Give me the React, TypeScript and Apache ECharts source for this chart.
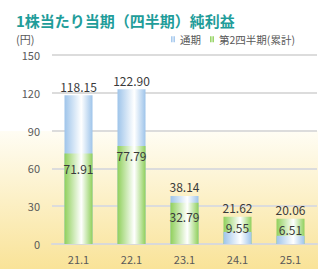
import React, { useEffect, useRef } from "react";
import * as echarts from "echarts";

const categories = ["21.1", "22.1", "23.1", "24.1", "25.1"];
const annualValues = [118.15, 122.9, 38.14, 21.62, 20.06];
const q2Values = [71.91, 77.79, 32.79, 9.55, 6.51];
const yTicks = { min: 0, max: 150, interval: 30 };

const seriesNames = ["通期", "第2四半期(累計)"];

// style-only helpers
const swapColor = [false, false, false, true, true];
const frontLabelOffsetY = [4, -2, 3, -15, -17];

const FONT = "'Noto Sans CJK JP', 'Noto Sans', sans-serif";

const blueGrad = {
  type: "linear", x: 0, y: 0, x2: 1, y2: 0,
  colorStops: [
    { offset: 0, color: "#9ec4ea" },
    { offset: 0.6, color: "#ffffff" },
    { offset: 1, color: "#9ec4ea" },
  ],
};
const greenGrad = {
  type: "linear", x: 0, y: 0, x2: 1, y2: 0,
  colorStops: [
    { offset: 0, color: "#90d05c" },
    { offset: 0.6, color: "#ffffff" },
    { offset: 1, color: "#90d05c" },
  ],
};

export default function App() {
  const ref = useRef<HTMLDivElement>(null);
  useEffect(() => {
    if (!ref.current) return;
    const chart = echarts.init(ref.current, undefined, { renderer: "svg" });
    chart.setOption({
      animation: false,
      textStyle: { fontFamily: FONT },
      graphic: [
        {
          type: "rect",
          z: -100,
          silent: true,
          shape: { x: 0, y: 131, width: 318, height: 138 },
          style: {
            fill: {
              type: "linear", x: 0, y: 0, x2: 0, y2: 1,
              colorStops: [
                { offset: 0, color: "#fffdf4" },
                { offset: 1, color: "#f9e398" },
              ],
            },
          },
        },
        {
          type: "text",
          left: 16,
          top: 13,
          style: {
            text: "1株当たり当期（四半期）純利益",
            font: `bold 15px ${FONT}`,
            fill: "#1f9d9a",
          },
        },
        {
          type: "text",
          left: 16,
          top: 33,
          style: {
            text: "(円)",
            font: `11px ${FONT}`,
            fill: "#595959",
          },
        },
      ],
      legend: {
        left: 171,
        top: 34,
        itemWidth: 4,
        itemHeight: 6,
        itemGap: 9,
        padding: 0,
        icon: "path://M0,0H1.6V6H0Z M2.4,0H4V6H2.4Z",
        textStyle: { fontSize: 10.5, color: "#595959", fontFamily: FONT },
        data: [
          { name: seriesNames[0], itemStyle: { color: "#a9cbee" } },
          { name: seriesNames[1], itemStyle: { color: "#9bd66a" } },
        ],
      },
      grid: { left: 52, right: 1, top: 55, bottom: 25, containLabel: false },
      xAxis: {
        type: "category",
        data: categories,
        axisLine: { lineStyle: { color: "#d9d9d9", width: 2 } },
        axisTick: { show: false },
        axisLabel: { fontSize: 11, color: "#595959", margin: 9, fontFamily: FONT },
      },
      yAxis: {
        type: "value",
        min: yTicks.min,
        max: yTicks.max,
        interval: yTicks.interval,
        axisLine: { show: false },
        axisTick: { show: false },
        splitLine: { lineStyle: { color: "#dcdcdc", width: 2 } },
        axisLabel: { fontSize: 11, color: "#595959", margin: 12, fontFamily: FONT },
      },
      series: [
        {
          name: seriesNames[0],
          type: "bar",
          barWidth: 28,
          barGap: "-100%",
          z: 2,
          itemStyle: { color: blueGrad },
          label: {
            show: true,
            position: "top",
            distance: 3,
            fontSize: 12,
            color: "#3a3a3a",
            fontFamily: FONT,
            formatter: (p: any) => Number(p.value).toFixed(2),
          },
          data: annualValues.map((v, i) => ({
            value: v,
            itemStyle: { color: swapColor[i] ? greenGrad : blueGrad },
          })),
        },
        {
          name: seriesNames[1],
          type: "bar",
          barWidth: 28,
          barGap: "-100%",
          z: 3,
          itemStyle: { color: greenGrad },
          label: {
            show: true,
            position: "insideTop",
            distance: 5,
            fontSize: 12,
            color: "#3a3a3a",
            fontFamily: FONT,
            formatter: (p: any) => Number(p.value).toFixed(2),
          },
          data: q2Values.map((v, i) => ({
            value: v,
            itemStyle: { color: swapColor[i] ? blueGrad : greenGrad },
            label: { offset: [0, frontLabelOffsetY[i]] },
          })),
        },
      ],
    });
    return () => chart.dispose();
  }, []);
  return (
    <div
      ref={ref}
      style={{ position: "fixed", left: 0, top: 0, width: 318, height: 269, background: "#ffffff" }}
    />
  );
}
